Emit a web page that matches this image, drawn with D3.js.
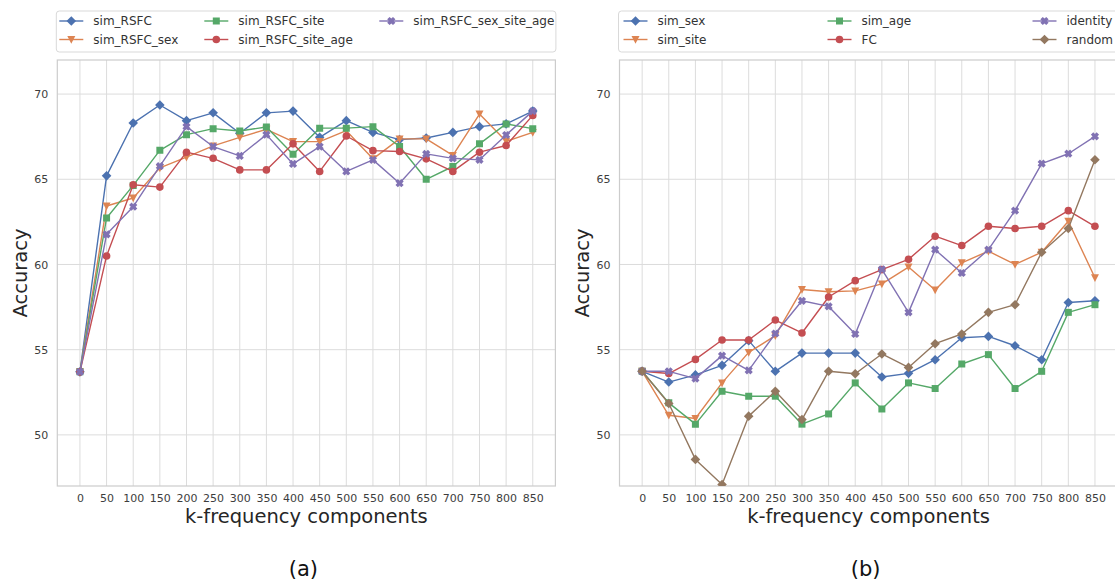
<!DOCTYPE html>
<html>
<head>
<meta charset="utf-8">
<script src="https://cdn.jsdelivr.net/npm/d3@7/dist/d3.min.js"></script>
<style>
  html, body { margin: 0; padding: 0; background: #fff; }
  svg { display: block; font-family: "DejaVu Sans", sans-serif; }
</style>
</head>
<body>
<svg id="chart" width="1115" height="583"></svg>
<script>
// k-frequency component counts (shared x values)
const kValues = [0, 50, 100, 150, 200, 250, 300, 350, 400, 450, 500, 550, 600, 650, 700, 750, 800, 850];
const yTicks = [50, 55, 60, 65, 70];

// Panel (a) series
const simRSFC          = [53.7, 65.2, 68.3, 69.36, 68.44, 68.9, 67.7, 68.9, 69.0, 67.46, 68.44, 67.75, 67.33, 67.42, 67.75, 68.09, 68.25, 69.0];
const simRSFCSex       = [53.7, 63.43, 63.9, 65.67, 66.3, 66.96, 67.46, 67.93, 67.21, 67.21, 67.85, 66.2, 67.37, 67.37, 66.4, 68.83, 67.23, 67.75];
const simRSFCSite      = [53.7, 62.73, 64.64, 66.7, 67.62, 67.97, 67.83, 68.07, 66.47, 68.0, 68.0, 68.09, 66.92, 65.0, 65.75, 67.08, 68.25, 67.97];
const simRSFCSiteAge   = [53.7, 60.5, 64.68, 64.54, 66.59, 66.23, 65.55, 65.55, 67.08, 65.46, 67.54, 66.68, 66.63, 66.2, 65.46, 66.59, 66.98, 68.75];
const simRSFCSexSiteAge= [53.7, 61.77, 63.39, 65.77, 68.09, 66.92, 66.37, 67.62, 65.9, 66.92, 65.46, 66.14, 64.77, 66.49, 66.23, 66.14, 67.6, 69.0];

// Panel (b) series
const simSex   = [53.73, 53.1, 53.52, 54.08, 55.53, 53.73, 54.8, 54.8, 54.8, 53.4, 53.61, 54.41, 55.7, 55.78, 55.23, 54.41, 57.77, 57.87];
const simSite  = [53.73, 51.15, 50.96, 53.05, 54.84, 55.82, 58.53, 58.4, 58.45, 58.86, 59.85, 58.5, 60.1, 60.78, 60.0, 60.72, 62.54, 59.22];
const simAge   = [53.73, 51.88, 50.63, 52.56, 52.27, 52.27, 50.63, 51.23, 53.05, 51.52, 53.05, 52.72, 54.16, 54.71, 52.72, 53.73, 57.19, 57.64];
const fcVals   = [53.73, 53.6, 54.43, 55.57, 55.57, 56.74, 55.98, 58.09, 59.05, 59.7, 60.3, 61.66, 61.11, 62.24, 62.11, 62.24, 63.16, 62.24];
const identity = [53.73, 53.73, 53.3, 54.65, 53.79, 55.95, 57.87, 57.54, 55.92, 59.71, 57.19, 60.87, 59.5, 60.87, 63.16, 65.92, 66.5, 67.52];
const randomV  = [53.73, 51.84, 48.56, 47.09, 51.1, 52.56, 50.9, 53.73, 53.59, 54.75, 53.96, 55.35, 55.92, 57.19, 57.64, 60.72, 62.11, 66.15];

const namesA = ["sim_RSFC", "sim_RSFC_sex", "sim_RSFC_site", "sim_RSFC_site_age", "sim_RSFC_sex_site_age"];
const namesB = ["sim_sex", "sim_site", "sim_age", "FC", "identity", "random"];

const C = { blue: "#4C72B0", orange: "#DD8452", green: "#55A868", red: "#C44E52", purple: "#8172B3", brown: "#937860" };

const panelA = {
  label: "(a)", left: 57.3, right: 555.4,
  series: [
    { name: namesA[0], values: simRSFC, color: C.blue, marker: "diamond" },
    { name: namesA[1], values: simRSFCSex, color: C.orange, marker: "tri" },
    { name: namesA[2], values: simRSFCSite, color: C.green, marker: "square" },
    { name: namesA[3], values: simRSFCSiteAge, color: C.red, marker: "circle" },
    { name: namesA[4], values: simRSFCSexSiteAge, color: C.purple, marker: "x" }
  ],
  // legend slots, column-major, offset from the legend box's left edge
  legendCols: [15, 160, 335]
};
const panelB = {
  label: "(b)", left: 619.5, right: 1117.6,
  series: [
    { name: namesB[0], values: simSex, color: C.blue, marker: "diamond" },
    { name: namesB[1], values: simSite, color: C.orange, marker: "tri" },
    { name: namesB[2], values: simAge, color: C.green, marker: "square" },
    { name: namesB[3], values: fcVals, color: C.red, marker: "circle" },
    { name: namesB[4], values: identity, color: C.purple, marker: "x" },
    { name: namesB[5], values: randomV, color: C.brown, marker: "diamond" }
  ],
  legendCols: [17, 221, 426]
};

const TOP = 60, BOTTOM = 486;

function markerPath(type) {
  switch (type) {
    case "diamond": { const r = 4.8; return `M0,${-r}L${r},0L0,${r}L${-r},0Z`; }
    case "square":  { const s = 3.5; return `M${-s},${-s}H${s}V${s}H${-s}Z`; }
    case "tri":     { const w = 4.0, h = 3.5; return `M${-w},${-h}L${w},${-h}L0,${h + 0.8}Z`; }
    case "circle":  { const r = 3.8; return `M${r},0A${r},${r} 0 1,1 ${-r},0A${r},${r} 0 1,1 ${r},0Z`; }
    case "x": {
      // filled X: a plus shape rotated by 45 degrees
      const a = 4.1, t = 1.7;
      const pts = [[-t,-a],[t,-a],[t,-t],[a,-t],[a,t],[t,t],[t,a],[-t,a],[-t,t],[-a,t],[-a,-t],[-t,-t]];
      const c = Math.SQRT1_2;
      return "M" + pts.map(([x, y]) => [(x - y) * c, (x + y) * c].map(v => v.toFixed(2)).join(",")).join("L") + "Z";
    }
  }
}

const svg = d3.select("#chart");
const defs = svg.append("defs");

function drawPanel(p, idx) {
  const x = d3.scaleLinear().domain([-42.5, 892.5]).range([p.left, p.right]);
  const y = d3.scaleLinear().domain([47, 72]).range([BOTTOM, TOP]);
  const g = svg.append("g");

  const clipId = "clip" + idx;
  defs.append("clipPath").attr("id", clipId)
    .append("rect").attr("x", p.left).attr("y", TOP)
    .attr("width", p.right - p.left).attr("height", BOTTOM - TOP);

  // grid
  const grid = g.append("g");
  grid.selectAll("line.v").data(kValues).join("line")
    .attr("x1", d => x(d)).attr("x2", d => x(d))
    .attr("y1", TOP).attr("y2", BOTTOM)
    .attr("stroke", "#dcdcdc").attr("stroke-width", 1);
  grid.selectAll("line.h").data(yTicks).join("line")
    .attr("x1", p.left).attr("x2", p.right)
    .attr("y1", d => y(d)).attr("y2", d => y(d))
    .attr("stroke", "#dcdcdc").attr("stroke-width", 1);

  // frame
  g.append("rect").attr("x", p.left).attr("y", TOP)
    .attr("width", p.right - p.left).attr("height", BOTTOM - TOP)
    .attr("fill", "none").attr("stroke", "#cccccc").attr("stroke-width", 1.2);

  // axes via d3 axis generators, styled like the grid style
  const xAxis = g.append("g").attr("transform", `translate(0,${BOTTOM})`)
    .call(d3.axisBottom(x).tickValues(kValues).tickSize(0).tickPadding(8).tickFormat(d3.format("d")));
  const yAxis = g.append("g").attr("transform", `translate(${p.left},0)`)
    .call(d3.axisLeft(y).tickValues(yTicks).tickSize(0).tickPadding(9).tickFormat(d3.format("d")));
  [xAxis, yAxis].forEach(a => {
    a.select(".domain").remove();
    a.selectAll("text").attr("fill", "#3d3d3d").style("font-size", "11px")
      .style("font-family", "'DejaVu Sans', sans-serif");
  });

  // axis titles
  g.append("text").attr("x", (p.left + p.right) / 2).attr("y", 523)
    .attr("text-anchor", "middle").attr("fill", "#262626")
    .style("font-size", "19.5px").text("k-frequency components");
  const yl = p.left - 37;
  g.append("text").attr("transform", `translate(${yl},${(TOP + BOTTOM) / 2}) rotate(-90)`)
    .attr("text-anchor", "middle").attr("dy", "0.35em").attr("fill", "#262626")
    .style("font-size", "19.5px").text("Accuracy");

  // panel caption
  g.append("text").attr("x", (p.left + p.right) / 2 - 3).attr("y", 576)
    .attr("text-anchor", "middle").attr("fill", "#111")
    .style("font-size", "21px").text(p.label);

  // series
  const plot = g.append("g").attr("clip-path", `url(#${clipId})`);
  const line = d3.line().x((d, i) => x(kValues[i])).y(d => y(d));
  p.series.forEach(s => {
    const sg = plot.append("g");
    sg.append("path").attr("d", line(s.values)).attr("fill", "none")
      .attr("stroke", s.color).attr("stroke-width", 1.4).attr("stroke-linejoin", "round");
    sg.selectAll("path.m").data(s.values).join("path").attr("class", "m")
      .attr("d", markerPath(s.marker))
      .attr("transform", (d, i) => `translate(${x(kValues[i])},${y(d)})`)
      .attr("fill", s.color);
  });

  // legend
  const lg = g.append("g");
  const boxL = p.left - 1, boxR = p.right + 0.5;
  lg.append("rect").attr("x", boxL).attr("y", 11).attr("width", boxR - boxL).attr("height", 41)
    .attr("rx", 3).attr("fill", "#fff").attr("stroke", "#d9d9d9").attr("stroke-width", 1);
  p.series.forEach((s, i) => {
    const col = Math.floor(i / 2), row = i % 2;
    const cx = boxL + p.legendCols[col];
    const cy = 21 + row * 18.5;
    lg.append("line").attr("x1", cx - 12).attr("x2", cx + 12).attr("y1", cy).attr("y2", cy)
      .attr("stroke", s.color).attr("stroke-width", 1.4);
    lg.append("path").attr("d", markerPath(s.marker)).attr("transform", `translate(${cx},${cy})`)
      .attr("fill", s.color);
    lg.append("text").attr("x", cx + 22).attr("y", cy).attr("dy", "0.35em")
      .attr("fill", "#333").style("font-size", "12px").text(s.name);
  });
}

drawPanel(panelA, 0);
drawPanel(panelB, 1);
</script>
</body>
</html>
